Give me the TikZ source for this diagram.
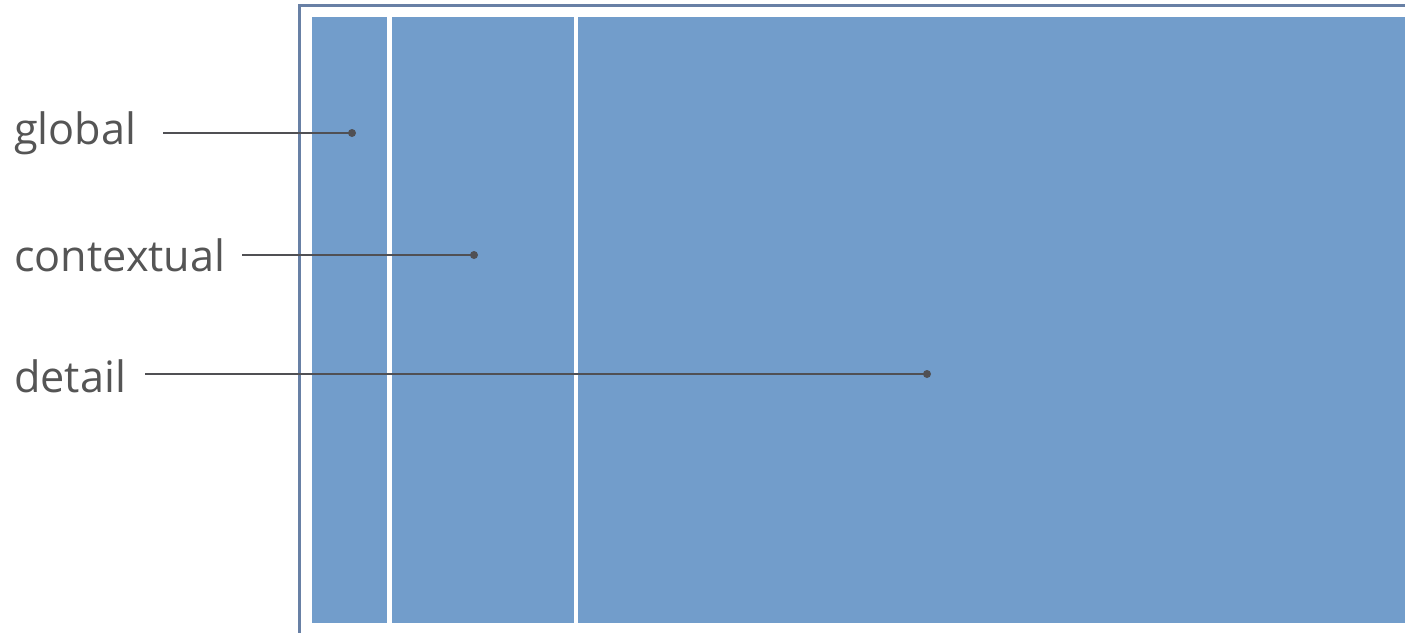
\documentclass[tikz,border=0pt]{standalone}
\usepackage{fontspec}
\setmainfont{Open Sans}
\definecolor{panelblue}{RGB}{114,157,203}
\definecolor{framecol}{RGB}{104,128,165}
\definecolor{labelgray}{RGB}{85,85,85}
\definecolor{linegray}{RGB}{80,80,84}
\begin{document}
\begin{tikzpicture}[x=1pt,y=-1pt,
  panel/.style={fill=panelblue,draw=none},
  lbl/.style={anchor=west,inner sep=0pt,text=labelgray,font=\fontsize{43.2}{50}\selectfont},
  leader/.style={draw=linegray,line width=1.4pt},
  dot/.style={circle,fill=linegray,inner sep=0pt,minimum size=8pt}]
\useasboundingbox (0,0) rectangle (1405,632);
% outer frame (clipped at right and bottom)
\draw[framecol,line width=2.5pt] (299.5,640) -- (299.5,5.5) -- (1420,5.5);
% panels
\fill[panelblue] (312,17) rectangle (386.5,622.5);
\fill[panelblue] (391.5,17) rectangle (573.5,622.5);
\fill[panelblue] (577.5,17) rectangle (1405,622.5);
% labels
\node[lbl] (global) at (14,133) {global};
\node[lbl] (contextual) at (14,255) {contextual};
\node[lbl] (detail) at (14,376) {detail};
% dots
\node[dot] (dg) at (352,133) {};
\node[dot] (dc) at (474,255) {};
\node[dot] (dd) at (927,374) {};
% leaders
\draw[leader] (163,133) -- (dg.center);
\draw[leader] (242,255) -- (dc.center);
\draw[leader] (145,374) -- (dd.center);
\end{tikzpicture}
\end{document}
